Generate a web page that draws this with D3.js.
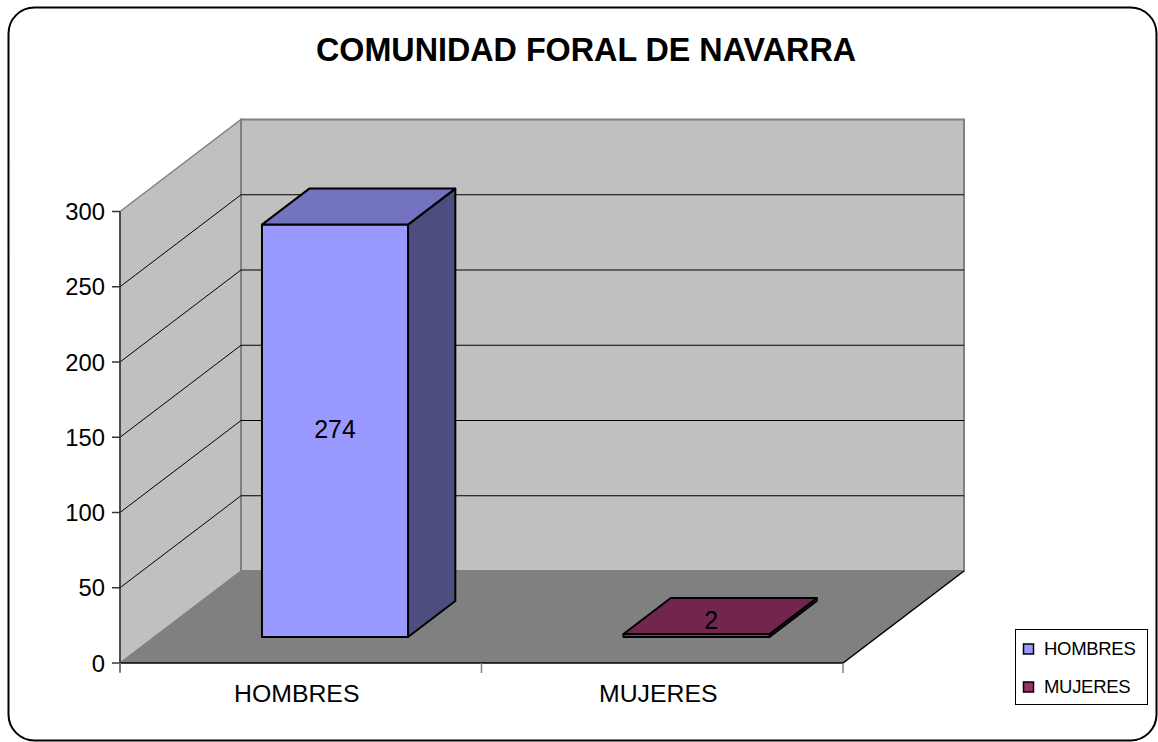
<!DOCTYPE html>
<html><head><meta charset="utf-8">
<script src="https://cdn.jsdelivr.net/npm/d3@7"></script>
<style>body{margin:0;background:#fff;overflow:hidden}</style></head>
<body><svg id="c" width="1158" height="742"></svg>
<script>
const title = "COMUNIDAD FORAL DE NAVARRA";
const categories = ["HOMBRES", "MUJERES"];
const values = [274, 2];
const yTicks = [0, 50, 100, 150, 200, 250, 300];
const seriesColors = ["#9999FF", "#993366"];

const svg = d3.select("#c");
const font = "Arial, 'Liberation Sans', sans-serif";
const DX = 121, DY = 92;
const y = d3.scaleLinear().domain([0, 300]).range([663, 211.5]);
const x = d3.scaleBand().domain(categories).range([120, 843]);
const x0 = 120, x1 = 843;
function P(px, v, d) { return [px + d * DX, y(v) - d * DY]; }
const poly = pts => pts.map(p => p.join(",")).join(" ");
const shade = (c, k) => { const r = d3.rgb(c); return d3.rgb(r.r * k, r.g * k, r.b * k).formatHex(); };

// frame
svg.append("rect").attr("x", 8.5).attr("y", 7.5).attr("width", 1148).attr("height", 733)
  .attr("rx", 26).attr("ry", 26).attr("fill", "#fff").attr("stroke", "#000").attr("stroke-width", 2);

// title
svg.append("text").attr("x", 586).attr("y", 61).attr("text-anchor", "middle")
  .attr("font-family", font).attr("font-weight", "bold").attr("font-size", 32.3).text(title);

// side wall
svg.append("polygon").attr("points", poly([P(x0, 0, 0), P(x0, 300, 0), P(x0, 300, 1), P(x0, 0, 1)]))
  .attr("fill", "#C0C0C0").attr("stroke", "#808080").attr("stroke-width", 1.5);
// back wall
svg.append("polygon").attr("points", poly([P(x0, 0, 1), P(x0, 300, 1), P(x1, 300, 1), P(x1, 0, 1)]))
  .attr("fill", "#C0C0C0").attr("stroke", "#808080").attr("stroke-width", 2);
// floor
svg.append("polygon").attr("points", poly([P(x0, 0, 0), P(x0, 0, 1), P(x1, 0, 1), P(x1, 0, 0)]))
  .attr("fill", "#808080").attr("stroke", "none");
svg.append("polyline").attr("points", poly([P(x0, 0, 0), P(x1, 0, 0), P(x1, 0, 1)]))
  .attr("fill", "none").attr("stroke", "#000").attr("stroke-width", 1.5);

// gridlines
const inner = yTicks.filter(t => t > 0 && t < 300);
svg.append("g").selectAll("polyline").data(inner).join("polyline")
  .attr("points", t => poly([P(x0, t, 0), P(x0, t, 1), P(x1, t, 1)]))
  .attr("fill", "none").attr("stroke", "#000").attr("stroke-width", 1);

// y axis
svg.append("line").attr("x1", x0).attr("x2", x0).attr("y1", y(300)).attr("y2", y(0) + 9)
  .attr("stroke", "#333").attr("stroke-width", 1.5);
const yt = svg.append("g").selectAll("g").data(yTicks).join("g");
yt.append("line").attr("x1", x0 - 8).attr("x2", x0).attr("y1", d => y(d)).attr("y2", d => y(d))
  .attr("stroke", "#333").attr("stroke-width", 1.5);
yt.append("text").attr("x", x0 - 15).attr("y", d => y(d) + 8.5).attr("text-anchor", "end")
  .attr("font-family", font).attr("font-size", 23.8).text(d => d);

// category ticks & labels
const bounds = [x0].concat(categories.map(c => x(c) + x.bandwidth()));
svg.append("g").selectAll("line").data(bounds).join("line")
  .attr("x1", d => d).attr("x2", d => d).attr("y1", y(0)).attr("y2", y(0) + 10)
  .attr("stroke", "#808080").attr("stroke-width", 1.5);
svg.append("g").selectAll("text").data(categories).join("text")
  .attr("x", c => x(c) + x.bandwidth() / 2 - 4).attr("y", 702).attr("text-anchor", "middle")
  .attr("font-family", font).attr("font-size", 24.8).text(c => c);

// bars
const d0 = 0.283, d1 = 0.674, wFrac = 0.404;
const bars = categories.map((c, i) => {
  const w = x.bandwidth() * wFrac;
  const l = x(c) + (x.bandwidth() - w) / 2, r = l + w;
  return { c, v: values[i], l, r, col: seriesColors[i] };
});
const bg = svg.append("g").selectAll("g").data(bars).join("g")
  .attr("stroke", "#000").attr("stroke-width", 2).attr("stroke-linejoin", "round");
bg.append("polygon").attr("points", b => poly([P(b.r, 0, d0), P(b.r, 0, d1), P(b.r, b.v, d1), P(b.r, b.v, d0)]))
  .attr("fill", b => shade(b.col, 0.5));
bg.append("polygon").attr("points", b => poly([P(b.l, 0, d0), P(b.r, 0, d0), P(b.r, b.v, d0), P(b.l, b.v, d0)]))
  .attr("fill", b => b.col);
bg.append("polygon").attr("points", b => poly([P(b.l, b.v, d0), P(b.r, b.v, d0), P(b.r, b.v, d1), P(b.l, b.v, d1)]))
  .attr("fill", b => shade(b.col, 0.75));

// value labels
svg.append("g").selectAll("text").data(bars).join("text")
  .attr("text-anchor", "middle").attr("dominant-baseline", "central")
  .attr("font-family", font).attr("font-size", 25)
  .attr("x", b => {
    const cx = (b.l + b.r) / 2;
    return (y(0) - y(b.v) > 30) ? P(cx, b.v / 2, d0)[0] : P(cx, b.v, (d0 + d1) / 2)[0] - 9;
  })
  .attr("y", b => {
    const cx = (b.l + b.r) / 2;
    return (y(0) - y(b.v) > 30) ? P(cx, b.v / 2, d0)[1] - 2 : P(cx, b.v, (d0 + d1) / 2)[1] + 4;
  })
  .text(b => b.v);

// legend
const lg = svg.append("g");
lg.append("rect").attr("x", 1015.5).attr("y", 629.5).attr("width", 132).attr("height", 75)
  .attr("fill", "#fff").attr("stroke", "#000").attr("stroke-width", 1);
const li = lg.selectAll("g").data(categories).join("g")
  .attr("transform", (c, i) => `translate(0,${i * 38})`);
li.append("rect").attr("x", 1023.5).attr("y", 644).attr("width", 10).attr("height", 10)
  .attr("fill", (c, i) => seriesColors[i]).attr("stroke", "#000").attr("stroke-width", 1.5);
li.append("text").attr("x", 1044).attr("y", 654.5).attr("font-family", font).attr("font-size", 18.5)
  .attr("letter-spacing", -0.3).text(c => c);
</script></body></html>
